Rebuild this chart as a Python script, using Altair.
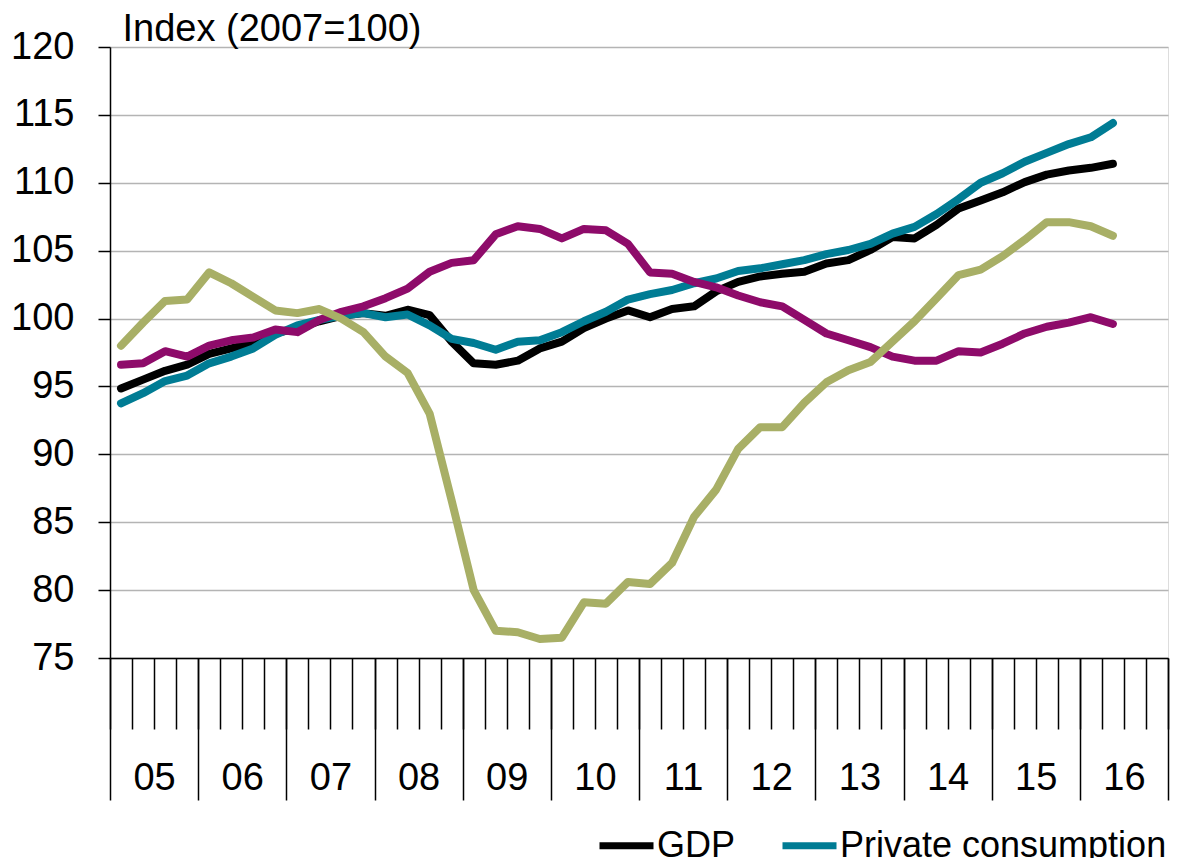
import altair as alt
import pandas as pd

year_labels = ["05", "06", "07", "08", "09", "10", "11", "12", "13", "14", "15", "16"]

gdp = [94.85, 95.5, 96.15, 96.6, 97.4, 97.8, 98.2, 98.9, 99.3, 99.8,
       100.2, 100.4, 100.2, 100.65, 100.25, 98.3, 96.7, 96.6, 96.9, 97.8,
       98.3, 99.3, 100.0, 100.6, 100.1, 100.7, 100.9, 102.0, 102.7, 103.1,
       103.3, 103.45, 104.05, 104.3, 105.05, 106.0, 105.9, 106.9, 108.1, 108.7,
       109.3, 110.05, 110.6, 110.9, 111.1, 111.4]
private = [93.75, 94.5, 95.4, 95.8, 96.7, 97.2, 97.8, 98.8, 99.5, 99.9,
           100.2, 100.4, 100.1, 100.3, 99.5, 98.5, 98.2, 97.7, 98.3, 98.4,
           99.0, 99.8, 100.5, 101.4, 101.8, 102.1, 102.6, 102.95, 103.5, 103.7,
           104.0, 104.3, 104.75, 105.05, 105.5, 106.25, 106.75, 107.7, 108.8, 110.0,
           110.7, 111.55, 112.2, 112.85, 113.35, 114.4]
public = [96.6, 96.7, 97.6, 97.2, 98.0, 98.4, 98.6, 99.2, 99.0, 99.9,
          100.5, 100.9, 101.5, 102.2, 103.45, 104.1, 104.3, 106.2, 106.8, 106.6,
          105.9, 106.6, 106.5, 105.5, 103.4, 103.3, 102.7, 102.3, 101.7, 101.2,
          100.9, 99.9, 98.9, 98.4, 97.9, 97.2, 96.9, 96.9, 97.6, 97.5,
          98.15, 98.9, 99.4, 99.7, 100.1, 99.6]
investment = [98.0, 99.7, 101.3, 101.4, 103.4, 102.6, 101.6, 100.6, 100.4, 100.7,
              100.0, 99.0, 97.2, 96.0, 93.0, 86.6, 80.0, 77.0, 76.9, 76.4,
              76.5, 79.1, 79.0, 80.6, 80.45, 82.0, 85.4, 87.4, 90.4, 92.0,
              92.0, 93.8, 95.3, 96.2, 96.8, 98.3, 99.8, 101.5, 103.2, 103.6,
              104.6, 105.8, 107.1, 107.1, 106.8, 106.1]

series_names = ["GDP", "Private consumption", "Public consumption", "Investment"]
series_colors = ["#000000", "#007C94", "#8E0B6A", "#A8AF66"]
legend_names = ["GDP", "Private consumption"]
y_ticks = [75, 80, 85, 90, 95, 100, 105, 110, 115, 120]

rows = []
for name, vals in zip(series_names, [gdp, private, public, investment]):
    for i, v in enumerate(vals):
        rows.append({"q": i + 0.5, "value": v, "series": name})
df = pd.DataFrame(rows)

n_q = 4 * len(year_labels)
quarter_bounds = list(range(n_q + 1))
year_bounds = list(range(0, n_q + 1, 4))
year_centers = [4 * k + 2 for k in range(len(year_labels))]

FONT = "Liberation Sans"
xscale = alt.Scale(domain=[0, n_q], nice=False, zero=False)

lines = alt.Chart(df).mark_line(strokeWidth=8, strokeCap="round", strokeJoin="round").encode(
    x=alt.X("q:Q", scale=xscale,
            axis=alt.Axis(orient="bottom", values=quarter_bounds, tickSize=71, tickColor="black",
                          tickWidth=1.5, labels=False, grid=False, domainColor="black",
                          domainWidth=1.5, title=None)),
    y=alt.Y("value:Q", scale=alt.Scale(domain=[75, 120], nice=False, zero=False),
            axis=alt.Axis(values=y_ticks, tickSize=12, tickColor="black", tickWidth=1.5,
                          domainColor="black", domainWidth=1.5, grid=True,
                          gridColor="#b4b4b4", gridWidth=1.5, labelFontSize=38,
                          labelColor="black", labelPadding=24, labelFont=FONT,
                          title="Index (2007=100)", titleAngle=0, titleAlign="left",
                          titleBaseline="alphabetic", titleX=12, titleY=-7,
                          titleFontSize=38, titleFontWeight="normal", titleColor="black",
                          titleFont=FONT)),
    color=alt.Color("series:N", scale=alt.Scale(domain=series_names, range=series_colors),
                    legend=alt.Legend(values=legend_names, orient="none", legendX=486, legendY=768,
                                      direction="horizontal", symbolType="stroke",
                                      symbolStrokeWidth=7, symbolSize=2916, labelFontSize=36,
                                      labelFont=FONT, labelColor="black", title=None,
                                      columnPadding=32, labelOffset=0, padding=0,
                                      labelLimit=800)),
)

yb = pd.DataFrame({"b": year_bounds})
year_ticks = alt.Chart(yb).mark_rule(opacity=0).encode(
    x=alt.X("b:Q", scale=xscale,
            axis=alt.Axis(orient="bottom", values=year_bounds, tickSize=142, tickColor="black",
                          tickWidth=1.5, labels=False, domain=False, grid=False, title=None))
)

label_expr = "[" + ",".join("'" + s + "'" for s in year_labels) + "][floor(datum.value / 4)]"
yc = pd.DataFrame({"c": year_centers, "label": year_labels})
year_text = alt.Chart(yc).mark_rule(opacity=0).encode(
    x=alt.X("c:Q", scale=xscale,
            axis=alt.Axis(orient="bottom", values=year_centers, ticks=False, tickSize=0,
                          domain=False, grid=False, title=None, labelExpr=label_expr,
                          labelPadding=120, labelBaseline="middle", labelFontSize=38,
                          labelFont=FONT, labelColor="black"))
)

chart = alt.layer(lines, year_ticks, year_text).resolve_axis(x="independent").properties(
    width=1058, height=611,
    padding={"left": 102, "top": 39, "right": 12, "bottom": 200},
    autosize=alt.AutoSizeParams(type="none"),
).configure_view(stroke="black", strokeWidth=1.5).configure(font=FONT)

chart.save("out.html", embed_options={"renderer": "svg", "actions": False})
